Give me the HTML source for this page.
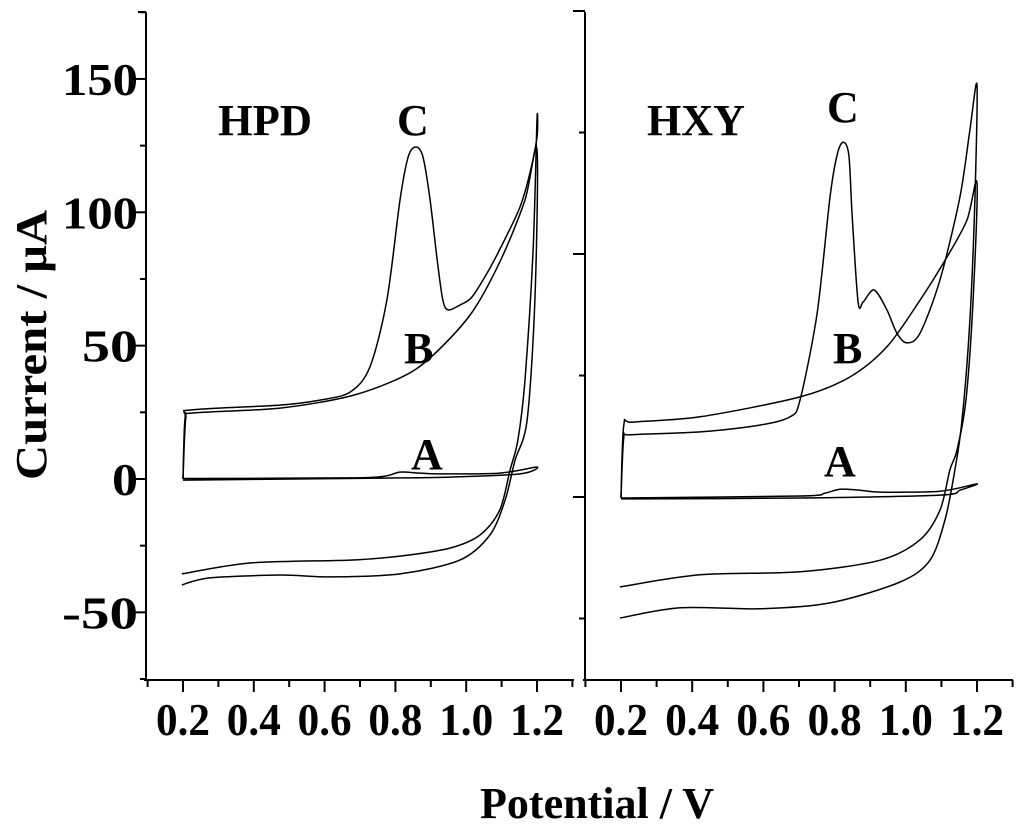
<!DOCTYPE html>
<html><head><meta charset="utf-8"><style>
html,body{margin:0;padding:0;background:#fff;}
svg{display:block;}
text{font-family:"Liberation Serif",serif;font-weight:bold;fill:#000;}
</style></head><body>
<svg id="chart" width="1024" height="831" viewBox="0 0 1024 831" xmlns="http://www.w3.org/2000/svg"></svg>
<script>
// ---- data (Potential V, Current µA) ----
const xTickLabels = ["0.2","0.4","0.6","0.8","1.0","1.2"];
const yTickLabels = ["-50","0","50","100","150"];
const yTickValues = [-50,0,50,100,150];

const hpdC_V = [0.2,0.206,0.225,0.474,0.587,0.672,0.728,0.776,0.813,0.836,0.858,0.878,0.898,0.918,0.934,0.949,0.982,1.016,1.059,1.104,1.152,1.180,1.2,1.2, 1.189,1.166,1.146,1.124,1.095,1.039,0.954,0.813,0.672,0.389,0.197];
const hpdC_I = [0,22.9,25.9,27.7,29.6,32.6,42.0,67.1,104.6,120.7,124.5,120.7,104.6,82.1,67.1,63.4,65.2,68.2,77.2,88.5,102.0,114.7,128.2,135, 85.9,37.1,14.6,3.4,-11.6,-21.0,-25.9,-28.9,-30.4,-31.5,-35.6];
const hpdB_V = [0.2,0.208,0.225,0.474,0.672,0.813,0.898,1.011,1.095,1.166,1.2, 1.194,1.172,1.138,1.110,1.067,0.982,0.813,0.615,0.474,0.276,0.197];
const hpdB_I = [0,22.9,24.7,26.6,31.1,37.9,45.4,61.5,81.4,104.6,123.4, 67.1,22.1,7.1,-7.9,-21.0,-30.4,-35.6,-36.7,-36.0,-37.1,-39.7];
const hpdA_V = [0.2,0.672,0.771,0.813,0.870,0.926,1.095,1.2, 1.152,0.954,0.813,0.2];
const hpdA_I = [0.2,0.4,1.1,2.6,2.2,1.9,2.2,4.5, 1.9,0.7,0.4,-0.4];

const hxyC_V = [0.2,0.208,0.225,0.422,0.590,0.675,0.703,0.751,0.787,0.807,0.824,0.840,0.849,0.866,0.880,0.911,0.947,0.975,1.003,1.040,1.096,1.152,1.180,1.2, 1.194,1.180,1.158,1.138,1.110,1.068,0.984,0.787,0.590,0.366,0.197];
const hxyC_I = [-0.2,12.3,12.8,13.4,14.8,16.5,20.0,37.9,61.7,70.4,73.0,70.4,58.4,40.1,40.1,42.6,38.5,33.7,31.7,33.7,44.7,61.7,75.5,84.8, 61.1,36.4,15.8,5.6,-4.7,-13.0,-17.5,-21.8,-23.0,-22.8,-24.9];
const hxyB_V = [0.2,0.208,0.234,0.422,0.703,0.843,0.947,1.040,1.116,1.172,1.2, 1.189,1.169,1.144,1.124,1.096,1.040,0.928,0.703,0.422,0.197];
const hxyB_I = [-0.2,14.8,15.4,16.5,20.6,24.7,30.9,40.5,49.4,57.0,64.6, 40.5,20.0,9.7,5.6,-2.7,-8.8,-13.0,-15.4,-16.0,-18.5];
const hxyA_V = [0.2,0.703,0.773,0.815,0.871,0.928,1.096,1.2, 1.152,1.096,0.703,0.2];
const hxyA_I = [-0.2,0.2,0.8,1.6,1.4,1.0,1.2,2.7, 1.4,0.4,-0.2,-0.4];

// ---- axes ----
const NS="http://www.w3.org/2000/svg";
const svg=document.getElementById('chart');
function mk(tag,attrs,parent){const e=document.createElementNS(NS,tag);for(const k in attrs)e.setAttribute(k,attrs[k]);(parent||svg).appendChild(e);return e;}
const L={x0:183,x1:537,yz:479,ppu:2.667,left:146,right:574};
const R={x0:621,x1:977,yz:497,ppu:4.86,left:585,right:1013};
function sx(p,v){return p.x0+(v-0.2)*(p.x1-p.x0);}
function sy(p,i){return p.yz-i*p.ppu;}

function drawAxes(p,name,leftTicks){
  const g=mk('g',{});
  
  
  mk('line',{x1:p.left,y1:12,x2:p.left,y2:680,stroke:'#000','stroke-width':2},g);
  mk('line',{x1:p.left-2,y1:680,x2:p.right,y2:680,stroke:'#000','stroke-width':2},g);
  for(let k=1;k<=13;k++){
    const v=k/10, x=sx(p,v), major=(k%2===0);
    mk('line',{x1:x,y1:680,x2:x,y2:major?692:687,stroke:'#000','stroke-width':2},g);
  }
  xTickLabels.forEach((lab,i)=>{
    const v=parseFloat(lab), x=sx(p,v);
    const t=mk('text',{x:x,y:735,'text-anchor':'middle','font-size':46,textLength:54,lengthAdjust:'spacingAndGlyphs'},g);
    t.textContent=lab;
    
    
  });
  leftTicks(g);
}
drawAxes(L,'hpd',g=>{
  for(let v=-75;v<=175;v+=25){
    const y=sy(L,v), major=(v%50===0);
    mk('line',{x1:L.left,y1:y,x2:L.left-(major?12:6),y2:y,stroke:'#000','stroke-width':2},g);
  }
  mk('line',{x1:L.left,y1:12,x2:L.left-8,y2:12,stroke:'#000','stroke-width':2},g);
  yTickLabels.forEach((lab,i)=>{
    const w=lab.length===3?76:(lab.length===2?56:26);
    const t=mk('text',{x:138,y:sy(L,yTickValues[i])+16,'text-anchor':'end','font-size':46,textLength:w,lengthAdjust:'spacingAndGlyphs'},g);
    t.textContent=lab;
    
    
  });
});
drawAxes(R,'hxy',g=>{
  for(let v=-25;v<=100;v+=25){
    const y=sy(R,v), major=(v%50===0);
    mk('line',{x1:R.left,y1:y,x2:R.left-(major?12:6),y2:y,stroke:'#000','stroke-width':2},g);
  }
});

// ---- curves (Catmull-Rom smoothing) ----
function curve(p,V,I,name){
  const P=V.map((v,i)=>[sx(p,v),sy(p,I[i])]);
  let d='M'+P[0][0].toFixed(1)+','+P[0][1].toFixed(1);
  const t=0.15;
  for(let i=0;i<P.length-1;i++){
    const p0=P[Math.max(0,i-1)],p1=P[i],p2=P[i+1],p3=P[Math.min(P.length-1,i+2)];
    const c1=[p1[0]+(p2[0]-p0[0])*t,p1[1]+(p2[1]-p0[1])*t];
    const c2=[p2[0]-(p3[0]-p1[0])*t,p2[1]-(p3[1]-p1[1])*t];
    d+='C'+c1[0].toFixed(1)+','+c1[1].toFixed(1)+' '+c2[0].toFixed(1)+','+c2[1].toFixed(1)+' '+p2[0].toFixed(1)+','+p2[1].toFixed(1);
  }
  const path=mk('path',{d:d,fill:'none',stroke:'#000','stroke-width':1.5,'stroke-linejoin':'round'});
  
  
}
curve(L,hpdA_V,hpdA_I,'hpd-curve-a');
curve(L,hpdB_V,hpdB_I,'hpd-curve-b');
curve(L,hpdC_V,hpdC_I,'hpd-curve-c');
curve(R,hxyA_V,hxyA_I,'hxy-curve-a');
curve(R,hxyB_V,hxyB_I,'hxy-curve-b');
curve(R,hxyC_V,hxyC_I,'hxy-curve-c');
</script>
<svg style="position:absolute;left:0;top:0" width="1024" height="831" xmlns="http://www.w3.org/2000/svg">
<text x="218" y="135" font-size="44" textLength="94" lengthAdjust="spacingAndGlyphs">HPD</text>
<text x="397" y="135" font-size="44">C</text>
<text x="404" y="363" font-size="44">B</text>
<text x="411" y="469" font-size="44">A</text>
<text x="647" y="135" font-size="44" textLength="98" lengthAdjust="spacingAndGlyphs">HXY</text>
<text x="827" y="122" font-size="44">C</text>
<text x="833" y="363" font-size="44">B</text>
<text x="824" y="476" font-size="44">A</text>
<text x="597" y="818" font-size="44" text-anchor="middle" textLength="234" lengthAdjust="spacingAndGlyphs">Potential / V</text>
<text x="0" y="0" font-size="44" text-anchor="middle" textLength="270" lengthAdjust="spacingAndGlyphs" transform="translate(46,345) rotate(-90)">Current / μA</text>
</svg>
</body></html>
